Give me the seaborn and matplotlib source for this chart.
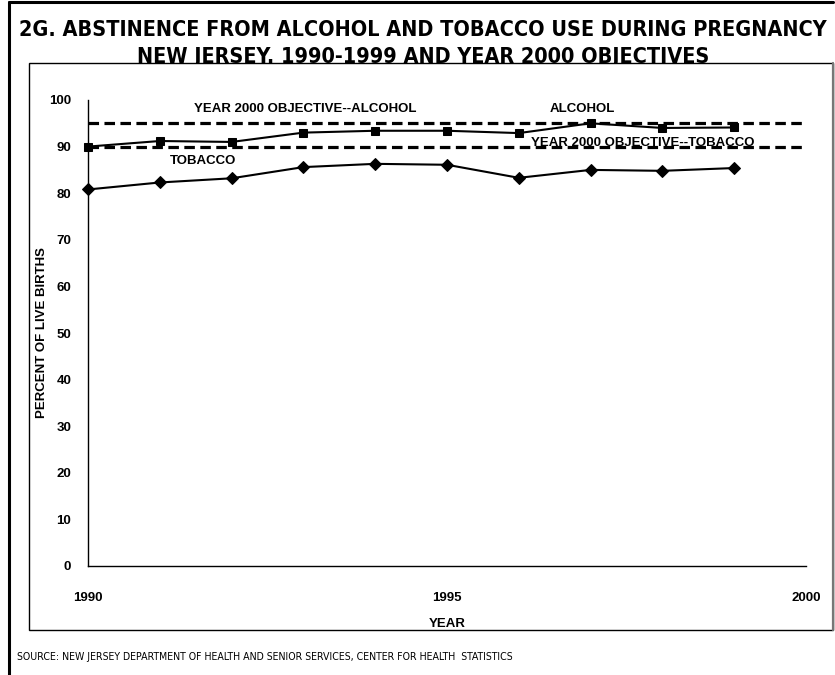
import matplotlib
matplotlib.use("Agg")
import matplotlib.pyplot as plt
from matplotlib.patches import Rectangle
from matplotlib.lines import Line2D
import seaborn as sns
import pandas as pd

# Data
years = [1990, 1991, 1992, 1993, 1994, 1995, 1996, 1997, 1998, 1999]
alcohol = [90.0, 91.2, 91.0, 93.0, 93.4, 93.4, 92.9, 95.0, 94.0, 94.1]
tobacco = [80.8, 82.3, 83.2, 85.6, 86.3, 86.1, 83.3, 85.0, 84.8, 85.4]
objective_years = [1990, 2000]
objective_alcohol = [95, 95]
objective_tobacco = [90, 90]
y_ticks = [0, 10, 20, 30, 40, 50, 60, 70, 80, 90, 100]
x_ticks = [1990, 1995, 2000]

sns.set_theme(style="white")
plt.rcParams["font.family"] = ["Liberation Sans", "DejaVu Sans"]
for key in ("text.color", "axes.labelcolor", "xtick.color", "ytick.color"):
    plt.rcParams[key] = "black"

W, H = 835, 675
fig = plt.figure(figsize=(W / 100, H / 100), dpi=100)

def fx(px):
    return px / W

def fy(py):
    return 1 - py / H

# Title (second line partially covered by the chart frame below it)
title_kw = dict(ha="center", va="center", fontsize=15.5, fontweight="bold",
                family="DejaVu Sans", fontstretch="condensed", zorder=3)
fig.text(fx(423), fy(30), "2G. ABSTINENCE FROM ALCOHOL AND TOBACCO USE DURING PREGNANCY", **title_kw)
fig.text(fx(423), fy(57), "NEW JERSEY. 1990-1999 AND YEAR 2000 OBJECTIVES", **title_kw)

# Outer page border (top and left)
fig.add_artist(Line2D([fx(9), fx(833)], [fy(2), fy(2)], color="black", lw=2.2, zorder=2))
fig.add_artist(Line2D([fx(9), fx(9)], [fy(2), fy(675)], color="black", lw=2.2, zorder=2))

# Chart frame with white fill
fig.add_artist(Rectangle((fx(29), fy(630)), fx(833) - fx(29), fy(63) - fy(630),
                         facecolor="white", edgecolor="black", lw=1.0, zorder=4))
fig.add_artist(Line2D([fx(833), fx(833)], [fy(63), fy(630)], color="#777777", lw=1.6, zorder=4.5))

ax = fig.add_axes([fx(88), fy(566), fx(806) - fx(88), fy(100) - fy(566)])
ax.set_zorder(5)
ax.patch.set_alpha(0)

df = pd.DataFrame({
    "year": years * 2,
    "value": alcohol + tobacco,
    "series": ["ALCOHOL"] * len(years) + ["TOBACCO"] * len(years),
})
sns.lineplot(data=df, x="year", y="value", hue="series", style="series",
             markers={"ALCOHOL": "s", "TOBACCO": "D"}, dashes=False,
             palette={"ALCOHOL": "black", "TOBACCO": "black"},
             markersize=6, markeredgecolor="black", linewidth=1.5,
             legend=False, ax=ax, clip_on=False, zorder=4)

obj = pd.DataFrame({
    "year": objective_years * 2,
    "value": objective_alcohol + objective_tobacco,
    "goal": ["A"] * 2 + ["T"] * 2,
})
sns.lineplot(data=obj, x="year", y="value", units="goal", estimator=None,
             color="black", linewidth=2.3, ax=ax, clip_on=False, zorder=3)
for line in ax.lines[-2:]:
    line.set_dashes((3.3, 1.7))

ax.set_xlim(1990, 2000)
ax.set_ylim(0, 100)
ax.set_xticks(x_ticks)
ax.set_yticks(y_ticks)
ax.set_xticklabels([str(t) for t in x_ticks], fontsize=9.5, fontweight="bold")
ax.set_yticklabels([str(t) for t in y_ticks], fontsize=9.5, fontweight="bold")
ax.tick_params(axis="both", length=0)
ax.tick_params(axis="x", pad=19)
ax.tick_params(axis="y", pad=12)
sns.despine(ax=ax)
for s in ("left", "bottom"):
    ax.spines[s].set_color("black")
    ax.spines[s].set_linewidth(1.0)
ax.set_xlabel("YEAR", fontsize=9.5, fontweight="bold", labelpad=10)
ax.set_ylabel("PERCENT OF LIVE BIRTHS", fontsize=9.5, fontweight="bold", labelpad=1)

# Series and objective labels
lab = dict(fontsize=9.5, fontweight="bold", ha="center", va="center")
ax.text(1993.02, 98.1, "YEAR 2000 OBJECTIVE--ALCOHOL", **lab)
ax.text(1996.88, 98.1, "ALCOHOL", **lab)
ax.text(1991.6, 86.9, "TOBACCO", **lab)
ax.text(1997.73, 90.8, "YEAR 2000 OBJECTIVE--TOBACCO", zorder=2, **lab)

fig.text(fx(17), fy(657), "SOURCE: NEW JERSEY DEPARTMENT OF HEALTH AND SENIOR SERVICES, CENTER FOR HEALTH  STATISTICS",
         ha="left", va="center", fontsize=7.6, family="DejaVu Sans", fontstretch="condensed", zorder=6)

fig.savefig("out.png", dpi=100, facecolor="white")
